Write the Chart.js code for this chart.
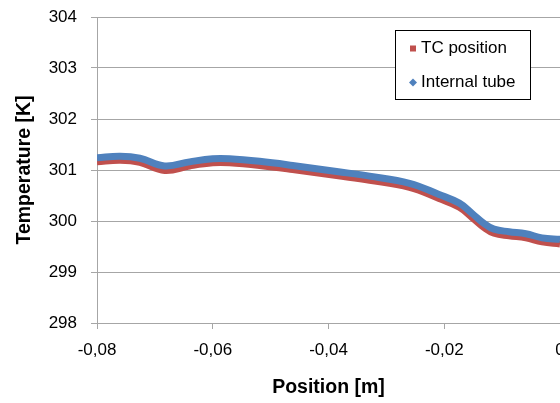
<!DOCTYPE html>
<html lang="en">
<head>
    <meta charset="UTF-8">
    <title>Temperature vs Position</title>
    <script src="https://cdn.jsdelivr.net/npm/chart.js"></script>
    <style>
        html, body {
            margin: 0;
            padding: 0;
            background: #fff;
            overflow: hidden;
        }
        .chart-container {
            width: 600px;
            height: 403px;
        }
    </style>
</head>
<body>

<div class="chart-container">
    <canvas id="tempChart" width="600" height="403"></canvas>
</div>

<script>
    // Data
    const positions = [-0.08, -0.076, -0.0726, -0.0683, -0.064, -0.060, -0.0571, -0.0519, -0.0462, -0.0386, -0.0329,
        -0.026, -0.0209, -0.0174, -0.0152, -0.0131, -0.0114, -0.0088, -0.0059, -0.0031, 0];
    const tcPosition = [301.16, 301.19, 301.15, 300.99, 301.08, 301.14, 301.14, 301.09, 301.01, 300.89, 300.80,
        300.66, 300.44, 300.27, 300.07, 299.87, 299.76, 299.71, 299.67, 299.59, 299.55];
    const internalTube = [301.24, 301.27, 301.23, 301.08, 301.16, 301.22, 301.22, 301.17, 301.09, 300.97, 300.88,
        300.74, 300.52, 300.35, 300.15, 299.95, 299.84, 299.79, 299.75, 299.67, 299.64];
    const seriesLabels = ['TC position', 'Internal tube'];

    const fontFamily = "'Liberation Sans', Arial, sans-serif";
    Chart.defaults.font.family = fontFamily;
    Chart.defaults.color = '#000';

    const gridColor = '#a6a6a6';

    // legend box inside the plot, like the Excel one
    const boxLegend = {
        id: 'boxLegend',
        afterDraw(chart) {
            const ctx = chart.ctx;
            ctx.save();
            ctx.fillStyle = '#fff';
            ctx.fillRect(395.5, 30.5, 135, 69);
            ctx.strokeStyle = '#000';
            ctx.lineWidth = 1;
            ctx.strokeRect(395.5, 30.5, 135, 69);
            chart.data.datasets.forEach((ds, i) => {
                const y = 48.5 + i * 34;
                ctx.fillStyle = ds.borderColor;
                if (i === 0) {
                    ctx.fillRect(410, y - 3, 6, 6);
                } else {
                    ctx.beginPath();
                    ctx.moveTo(413, y - 4);
                    ctx.lineTo(417, y);
                    ctx.lineTo(413, y + 4);
                    ctx.lineTo(409, y);
                    ctx.closePath();
                    ctx.fill();
                }
                ctx.fillStyle = '#000';
                ctx.font = '17px ' + fontFamily;
                ctx.textBaseline = 'middle';
                ctx.textAlign = 'left';
                ctx.fillText(ds.label, 421, y);
            });
            ctx.restore();
        }
    };

    const ctx = document.getElementById('tempChart').getContext('2d');
    new Chart(ctx, {
        type: 'line',
        data: {
            datasets: [{
                label: seriesLabels[0],
                data: positions.map((p, i) => ({x: p, y: tcPosition[i]})),
                borderColor: '#C0504D',
                backgroundColor: '#C0504D',
                borderWidth: 7,
                pointRadius: 0,
                tension: 0.4,
                order: 2
            }, {
                label: seriesLabels[1],
                data: positions.map((p, i) => ({x: p, y: internalTube[i]})),
                borderColor: '#4F81BD',
                backgroundColor: '#4F81BD',
                borderWidth: 7,
                pointRadius: 0,
                tension: 0.4,
                order: 1
            }]
        },
        options: {
            responsive: false,
            animation: false,
            layout: {
                padding: {top: 17, right: 40, left: 0, bottom: 0}
            },
            plugins: {
                legend: {display: false},
                tooltip: {enabled: false}
            },
            scales: {
                x: {
                    type: 'linear',
                    min: -0.08,
                    max: 0,
                    ticks: {
                        stepSize: 0.02,
                        padding: 11,
                        font: {size: 17},
                        callback: v => Math.abs(v) < 1e-9 ? '0' : v.toFixed(2).replace('.', ',')
                    },
                    grid: {drawOnChartArea: false, tickLength: 6, color: gridColor},
                    border: {color: gridColor},
                    title: {
                        display: true,
                        text: 'Position [m]',
                        font: {size: 19.5, weight: 'bold'},
                        padding: {top: 0, bottom: 4}
                    },
                    afterFit: s => { s.height = 80; }
                },
                y: {
                    min: 298,
                    max: 304,
                    ticks: {stepSize: 1, padding: 14, font: {size: 17}},
                    grid: {tickLength: 6, color: gridColor},
                    border: {color: gridColor},
                    title: {
                        display: true,
                        text: 'Temperature [K]',
                        font: {size: 19.5, weight: 'bold'},
                        padding: {top: 13, bottom: 0}
                    },
                    afterFit: s => {
                        s.width = 97;
                        s.paddingTop = 0;
                        s.paddingBottom = 0;
                    }
                }
            }
        },
        plugins: [boxLegend]
    });
</script>

</body>
</html>
